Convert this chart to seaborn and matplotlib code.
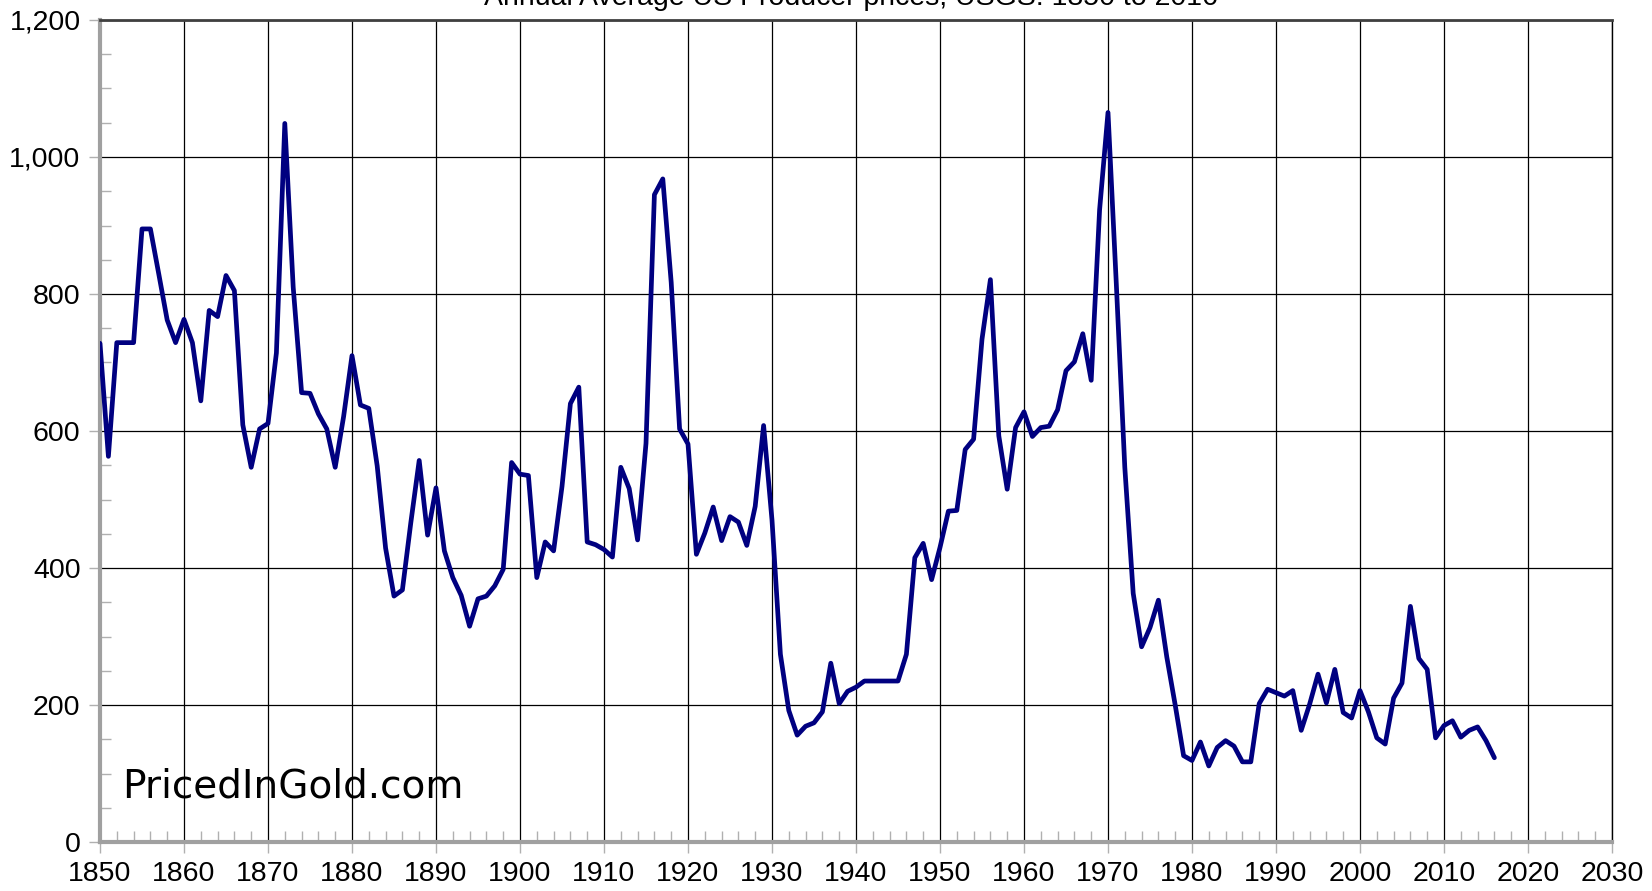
import matplotlib
matplotlib.use("Agg")
import matplotlib.pyplot as plt
from matplotlib.ticker import MultipleLocator, FuncFormatter
import seaborn as sns
import pandas as pd
import numpy as np

title = "Annual Average US Producer prices, USGS: 1850 to 2016"
watermark = "PricedInGold.com"

years = list(range(1850, 2017))
prices = [
    728, 563, 729, 729, 729, 895, 895, 829, 762, 729,   # 1850-1859
    763, 729, 644, 776, 767, 827, 805, 609, 547, 603,   # 1860-1869
    611, 714, 1049, 810, 656, 655, 625, 603, 547, 621,  # 1870-1879
    710, 638, 633, 549, 429, 359, 368, 466, 557, 448,   # 1880-1889
    517, 425, 386, 360, 315, 355, 359, 374, 398, 554,   # 1890-1899
    537, 535, 386, 438, 425, 519, 640, 664, 438, 434,   # 1900-1909
    427, 416, 547, 516, 441, 582, 945, 968, 817, 603,   # 1910-1919
    581, 420, 451, 489, 440, 475, 467, 433, 490, 608,   # 1920-1929
    470, 274, 192, 156, 169, 174, 190, 261, 202, 220,   # 1930-1939
    226, 235, 235, 235, 235, 235, 274, 415, 436, 383,   # 1940-1949
    430, 483, 484, 573, 588, 734, 821, 593, 515, 605,   # 1950-1959
    628, 592, 605, 607, 631, 688, 701, 742, 674, 923,   # 1960-1969
    1065, 812, 547, 363, 285, 313, 353, 270, 200, 126,  # 1970-1979
    119, 146, 111, 138, 148, 140, 117, 117, 202, 223,   # 1980-1989
    218, 213, 221, 163, 201, 245, 203, 252, 189, 181,   # 1990-1999
    221, 190, 152, 143, 210, 232, 344, 268, 252, 152,   # 2000-2009
    170, 177, 153, 163, 168, 148, 123,                  # 2010-2016
]

df = pd.DataFrame({"Year": years, "Price": prices})

sns.set_style("white")
plt.rcParams['font.family'] = ['Liberation Sans', 'DejaVu Sans']

W, H = 1652, 891
fig = plt.figure(figsize=(W / 100, H / 100), dpi=100)
ax = fig.add_axes([100 / W, 49 / H, (1612 - 100) / W, (842 - 20) / H])

sns.lineplot(data=df, x="Year", y="Price", ax=ax, color="#000080",
             linewidth=3.4, zorder=3)

ax.set_xlim(1850, 2030)
ax.set_ylim(0, 1200)
ax.xaxis.set_major_locator(MultipleLocator(10))
ax.xaxis.set_minor_locator(MultipleLocator(2))
ax.yaxis.set_major_locator(MultipleLocator(200))
ax.yaxis.set_minor_locator(MultipleLocator(50))
ax.yaxis.set_major_formatter(FuncFormatter(lambda v, p: f"{int(v):,}"))
ax.set_xlabel("")
ax.set_ylabel("")

ax.grid(True, which="major", color="black", linewidth=0.9)
ax.set_axisbelow(True)

ax.tick_params(axis="both", which="major", labelsize=20.5, length=8, width=1,
               color="#b0b0b0", direction="out", pad=6, labelcolor="black")
ax.tick_params(axis="both", which="minor", length=8, width=1,
               color="#b0b0b0", direction="in")
ax.tick_params(axis="y", which="both", left=True)
ax.tick_params(axis="x", which="both", bottom=True)

for side in ["left", "bottom"]:
    ax.spines[side].set_color("#a0a0a0")
    ax.spines[side].set_linewidth(3)
ax.spines["top"].set_color("#404040")
ax.spines["top"].set_linewidth(2)
ax.spines["right"].set_color("black")
ax.spines["right"].set_linewidth(1)

fig.text(851 / W, (H - 5) / H, title, ha="center", va="baseline",
         fontsize=20.5, color="black")

wm = fig.text(122 / W, (H - 797) / H, watermark, ha="left", va="baseline",
              fontsize=30, family=["Liberation Sans Narrow", "DejaVu Sans"],
              color="black", zorder=4)
fig.canvas.draw()
bb = wm.get_window_extent()
wm.set_fontsize(30 * (463 - 122) / bb.width)

fig.savefig("out.png", dpi=100)
